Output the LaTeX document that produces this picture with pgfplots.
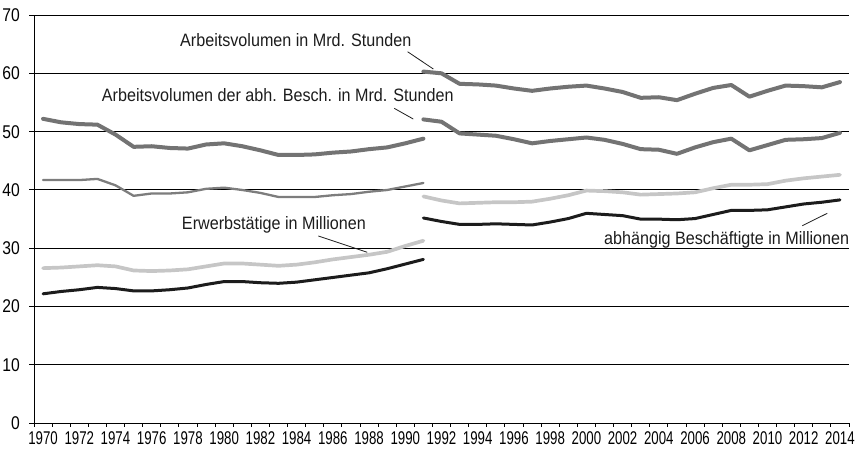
\documentclass[border=0pt]{standalone}
\usepackage{fontspec}
\setmainfont{Liberation Sans}[FakeStretch=0.9]
\newfontfamily\xtf{Liberation Sans}[FakeStretch=0.72]
\newfontfamily\ytf{Liberation Sans}[FakeStretch=0.85]
\usepackage{pgfplots}
\pgfplotsset{compat=1.18}
\definecolor{thickgray}{RGB}{115,115,115}
\definecolor{thingray}{RGB}{125,125,125}
\definecolor{lgray}{RGB}{198,198,198}
\definecolor{dblack}{RGB}{28,28,28}
\begin{document}
\begin{tikzpicture}
\useasboundingbox (-34bp,-26.7bp) rectangle (825bp,423.3bp);
\begin{axis}[
  scale only axis, width=815bp, height=408.3bp,
  xmin=1969.5, xmax=2014.5, ymin=0, ymax=70,
  axis lines=left, axis line style={-, black, line width=1bp},
  tick align=outside,
  ytick={0,10,...,70},
  ymajorgrids, major grid style={black, line width=1bp},
  xtick={1970,1972,...,2014},
  minor xtick={1969.5,1970.5,...,2014.5},
  major x tick style={draw=none},
  minor x tick style={black, line width=0.8bp},
  minor tick length=3.6bp,
  major y tick style={black, line width=1bp},
  major tick length=4.7bp,
  /pgf/number format/assume math mode=true,
  /pgf/number format/set thousands separator={},
  x tick label style={font=\xtf\fontsize{18.5}{20}\selectfont},
  y tick label style={font=\ytf\fontsize{18.5}{20}\selectfont, xshift=-6bp},
  clip=false,
]
% Arbeitsvolumen (West) thick
\addplot[thickgray, line width=4bp, line join=round, line cap=round] coordinates {
(1970,52.2)(1971,51.6)(1972,51.3)(1973,51.2)(1974,49.5)(1975,47.4)(1976,47.5)(1977,47.2)(1978,47.1)(1979,47.8)(1980,48.0)(1981,47.5)(1982,46.8)(1983,46.0)(1984,46.0)(1985,46.1)(1986,46.4)(1987,46.6)(1988,47.0)(1989,47.3)(1990,48.0)(1991,48.8)};
% Arbeitsvolumen abh. (West) thin
\addplot[thingray, line width=2.3bp, line join=round, line cap=round] coordinates {
(1970,41.7)(1971,41.7)(1972,41.7)(1973,41.9)(1974,40.8)(1975,39.0)(1976,39.4)(1977,39.4)(1978,39.6)(1979,40.2)(1980,40.4)(1981,40.0)(1982,39.5)(1983,38.8)(1984,38.8)(1985,38.8)(1986,39.1)(1987,39.3)(1988,39.7)(1989,40.0)(1990,40.6)(1991,41.2)};
% Erwerbstaetige West
\addplot[lgray, line width=3.7bp, line join=round, line cap=round] coordinates {
(1970,26.6)(1971,26.7)(1972,26.9)(1973,27.1)(1974,26.9)(1975,26.2)(1976,26.1)(1977,26.2)(1978,26.4)(1979,26.9)(1980,27.4)(1981,27.4)(1982,27.2)(1983,27.0)(1984,27.2)(1985,27.6)(1986,28.1)(1987,28.5)(1988,28.9)(1989,29.4)(1990,30.4)(1991,31.3)};
% abh. Beschaeftigte West
\addplot[dblack, line width=3bp, line join=round, line cap=round] coordinates {
(1970,22.2)(1971,22.6)(1972,22.9)(1973,23.3)(1974,23.1)(1975,22.7)(1976,22.7)(1977,22.9)(1978,23.2)(1979,23.8)(1980,24.3)(1981,24.3)(1982,24.1)(1983,24.0)(1984,24.2)(1985,24.6)(1986,25.0)(1987,25.4)(1988,25.8)(1989,26.5)(1990,27.3)(1991,28.1)};
% Arbeitsvolumen (Gesamt) thick
\addplot[thickgray, line width=4bp, line join=round, line cap=round] coordinates {
(1991,60.3)(1992,60.0)(1993,58.2)(1994,58.1)(1995,57.9)(1996,57.4)(1997,57.0)(1998,57.4)(1999,57.7)(2000,57.9)(2001,57.4)(2002,56.8)(2003,55.8)(2004,55.9)(2005,55.4)(2006,56.5)(2007,57.5)(2008,58.0)(2009,56.0)(2010,57.0)(2011,57.9)(2012,57.8)(2013,57.6)(2014,58.5)};
% Arbeitsvolumen abh. (Gesamt)
\addplot[thickgray, line width=4bp, line join=round, line cap=round] coordinates {
(1991,52.1)(1992,51.7)(1993,49.7)(1994,49.5)(1995,49.3)(1996,48.7)(1997,48.0)(1998,48.4)(1999,48.7)(2000,49.0)(2001,48.6)(2002,47.9)(2003,47.0)(2004,46.9)(2005,46.2)(2006,47.3)(2007,48.2)(2008,48.8)(2009,46.8)(2010,47.7)(2011,48.6)(2012,48.7)(2013,48.9)(2014,49.8)};
% Erwerbstaetige Gesamt
\addplot[lgray, line width=3.7bp, line join=round, line cap=round] coordinates {
(1991,38.9)(1992,38.2)(1993,37.7)(1994,37.8)(1995,37.9)(1996,37.9)(1997,38.0)(1998,38.5)(1999,39.1)(2000,39.9)(2001,39.8)(2002,39.6)(2003,39.2)(2004,39.3)(2005,39.4)(2006,39.6)(2007,40.3)(2008,40.9)(2009,40.9)(2010,41.0)(2011,41.6)(2012,42.0)(2013,42.3)(2014,42.6)};
% abh. Beschaeftigte Gesamt
\addplot[dblack, line width=3bp, line join=round, line cap=round] coordinates {
(1991,35.2)(1992,34.6)(1993,34.1)(1994,34.1)(1995,34.2)(1996,34.1)(1997,34.0)(1998,34.5)(1999,35.1)(2000,36.0)(2001,35.8)(2002,35.6)(2003,35.0)(2004,35.0)(2005,34.9)(2006,35.1)(2007,35.8)(2008,36.5)(2009,36.5)(2010,36.6)(2011,37.1)(2012,37.6)(2013,37.9)(2014,38.3)};
% annotations
\node[anchor=base west, inner sep=0, text=dblack, font=\fontsize{18}{20}\selectfont] at (axis cs:1977.56,64.56) {Arbeitsvolumen in Mrd. Stunden};
\draw[dblack, line width=0.8bp] (axis cs:1990.13,63.7) -- (axis cs:1991.55,60.74);
\node[anchor=base west, inner sep=0, text=dblack, font=\fontsize{18}{20}\selectfont] at (axis cs:1973.24,55.13) {Arbeitsvolumen der abh. Besch. in Mrd. Stunden};
\draw[dblack, line width=0.8bp] (axis cs:1989.39,54.0) -- (axis cs:1990.44,52.17);
\node[anchor=base west, inner sep=0, text=dblack, font=\fontsize{18}{20}\selectfont] at (axis cs:1977.66,33.14) {Erwerbstätige in Millionen};
\draw[dblack, line width=0.8bp] (axis cs:1985.2,32.11) -- (axis cs:1987.9,29.32);
\node[anchor=base east, inner sep=0, text=dblack, font=\fontsize{18}{20}\selectfont] at (axis cs:2014.52,30.57) {abhängig Beschäftigte in Millionen};
\draw[dblack, line width=0.8bp] (axis cs:2011.92,33.88) -- (axis cs:2013.3,36.0);
\end{axis}
\end{tikzpicture}
\end{document}
